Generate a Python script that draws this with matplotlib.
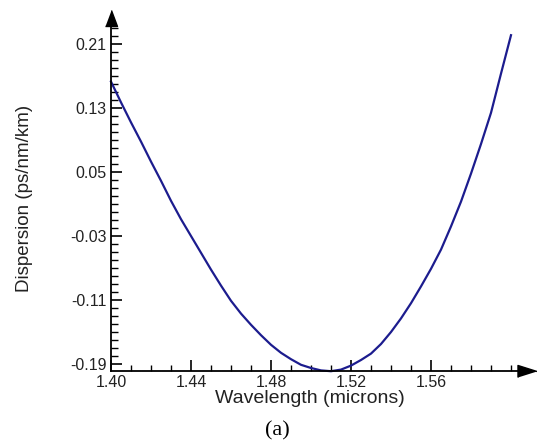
import numpy as np
import matplotlib.pyplot as plt
from matplotlib.ticker import MultipleLocator, FixedLocator

# wavelength (microns) and dispersion (ps/nm/km)
wavelength = [1.400, 1.405, 1.410, 1.415, 1.420, 1.425, 1.430, 1.435, 1.440,
              1.445, 1.450, 1.455, 1.460, 1.465, 1.470, 1.475, 1.480, 1.485,
              1.490, 1.495, 1.500, 1.505, 1.510, 1.515, 1.520, 1.525, 1.530,
              1.535, 1.540, 1.545, 1.550, 1.555, 1.560, 1.565, 1.570, 1.575,
              1.580, 1.585, 1.590, 1.595, 1.600]
dispersion = [0.163, 0.137, 0.112, 0.088, 0.063, 0.039, 0.014, -0.009, -0.030,
              -0.051, -0.072, -0.092, -0.111, -0.127, -0.141, -0.154, -0.166,
              -0.176, -0.184, -0.191, -0.195, -0.198, -0.199, -0.197, -0.192,
              -0.185, -0.177, -0.165, -0.150, -0.133, -0.114, -0.093, -0.071,
              -0.047, -0.018, 0.013, 0.048, 0.085, 0.124, 0.173, 0.221]

y_ticks = [0.21, 0.13, 0.05, -0.03, -0.11, -0.19]
x_ticks = [1.40, 1.44, 1.48, 1.52, 1.56]

plt.rcParams['font.family'] = ['Liberation Sans', 'DejaVu Sans']

fig = plt.figure(figsize=(5.37, 4.44), dpi=100)
# axes box: left spine at x=111 px, bottom spine at y=371 px (from top)
ax = fig.add_axes([111 / 537, 73 / 444, 407 / 537, 345 / 444])

ax.plot(wavelength, dispersion, color='#1c1c8e', lw=1.6, clip_on=False)

ax.set_xlim(1.40, 1.6035)
ax.set_ylim(-0.19875, 0.2325)

for s in ['top', 'right']:
    ax.spines[s].set_visible(False)
for s in ['left', 'bottom']:
    ax.spines[s].set_linewidth(1.3)
    ax.spines[s].set_color('black')

ax.yaxis.set_major_locator(FixedLocator(y_ticks))
ax.yaxis.set_minor_locator(MultipleLocator(0.01))
ax.xaxis.set_major_locator(FixedLocator(x_ticks))
ax.xaxis.set_minor_locator(MultipleLocator(0.01))
ax.set_yticklabels([f'{v:.2f}' for v in y_ticks])
ax.set_xticklabels([f'{v:.2f}' for v in x_ticks])

ax.tick_params(which='major', direction='in', length=8, width=1.2,
               labelsize=11.5, labelcolor='#222222', pad=3)
ax.tick_params(which='minor', direction='in', length=5, width=1.0)
ax.tick_params(axis='x', which='minor', length=4)
ax.tick_params(axis='x', which='major', pad=3)

# arrow heads at the ends of both axes
up = [(-6, -8), (6, -8), (0, 8)]
right = [(-9.5, -6), (-9.5, 6), (9.5, 0)]
ax.plot([0], [1.0232], marker=up, color='black', markersize=11.5,
        transform=ax.transAxes, clip_on=False)
ax.plot([1.0233], [0], marker=right, color='black', markersize=13.7,
        transform=ax.transAxes, clip_on=False)

ax.set_xlabel('Wavelength (microns)', fontsize=14, color='#222222')
ax.xaxis.set_label_coords(199 / 407, -19 / 345)
ax.set_ylabel('Dispersion (ps/nm/km)', fontsize=13.5, color='#222222')
ax.yaxis.set_label_coords(-78 / 407, 0.5)

fig.text(277 / 537, 1 - 431 / 444, '(a)', fontsize=16,
         family='Liberation Serif', ha='center', va='center')

fig.savefig('out.png', dpi=100)
